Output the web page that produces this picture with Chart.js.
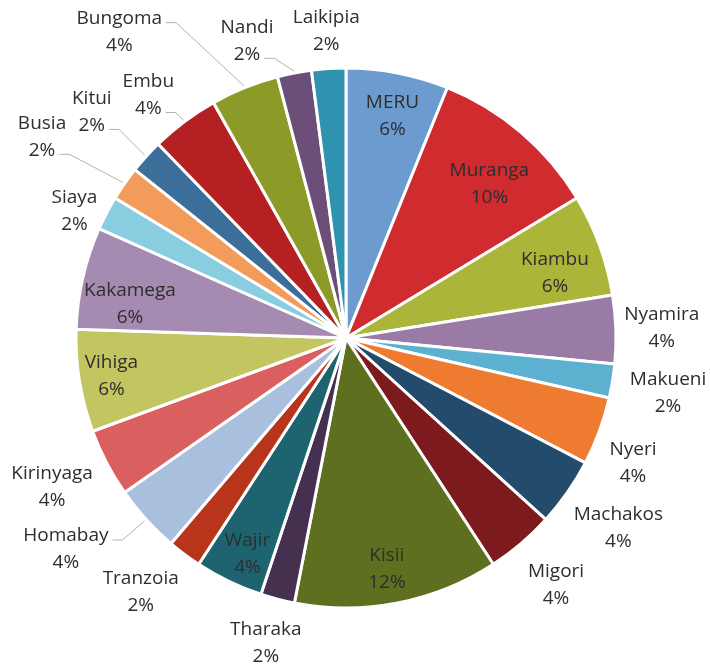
<!DOCTYPE html>
<html>
<head>
<meta charset="utf-8">
<script src="https://cdn.jsdelivr.net/npm/chart.js@4.4.1/dist/chart.umd.min.js"></script>
<style>
  body { margin: 0; background: #fff; }
  canvas { display: block; }
</style>
</head>
<body>
<canvas id="piechart" width="710" height="664"></canvas>
<script>
// counties clockwise from 12 o'clock, respondent counts (49 in all)
const counties = ["MERU", "Muranga", "Kiambu", "Nyamira", "Makueni", "Nyeri", "Machakos", "Migori",
    "Kisii", "Tharaka", "Wajir", "Tranzoia", "Homabay", "Kirinyaga", "Vihiga", "Kakamega",
    "Siaya", "Busia", "Kitui", "Embu", "Bungoma", "Nandi", "Laikipia"];
const counts = [3, 5, 3, 2, 1, 2, 2, 2, 6, 1, 2, 1, 2, 2, 3, 3, 1, 1, 1, 2, 2, 1, 1];

const sliceColors = ["#6b9bcf", "#d02b2e", "#abb53a", "#997ba6", "#5cb1d1", "#ef7b31", "#234c6c", "#7c1a1e",
    "#5e6f20", "#45304f", "#1e6470", "#b8341b", "#a9bfde", "#d9605e", "#c3c561", "#a58bb1",
    "#88cde0", "#f29b5b", "#3b6f9a", "#b52023", "#8c9b27", "#6b4f78", "#2f93b0"];

// label block centre: distance (x radius) and turn (degrees) from slice middle
const labelDist = [0.84, 0.78, 0.81, 1.17, 1.21, 1.16, 1.23, 1.20, 0.87, 1.17, 0.88, 1.21,
    1.30, 1.22, 0.88, 0.81, 1.11, 1.35, 1.26, 1.16, 1.41, 1.16, 1.14];
const labelTurn = [0.8, 2.5, 3, 0, 0.5, 3.4, 0, 0, 1, 0, -1.2, 2.2,
    5.2, 0.7, 0, -3.9, -2.5, -1.4, -0.6, -2.4, -14.5, -7.4, 0];
// which labels get a leader line back to their slice
const labelLeader = [0, 0, 0, 0, 0, 0, 0, 0, 0, 0, 0, 0,
    1, 0, 0, 0, 0, 1, 1, 1, 1, 1, 0];

const labelFont = '19px "Open Sans"';
const lineGap = 27;

const sliceLabels = {
    id: 'sliceLabels',
    afterDatasetsDraw(chart) {
        const ctx = chart.ctx;
        const meta = chart.getDatasetMeta(0);
        const total = counts.reduce((a, b) => a + b, 0);
        ctx.save();
        ctx.font = labelFont;
        ctx.textAlign = 'center';
        ctx.textBaseline = 'middle';
        meta.data.forEach((arc, i) => {
            const p = arc.getProps(['x', 'y', 'startAngle', 'endAngle', 'outerRadius'], true);
            const mid = (p.startAngle + p.endAngle) / 2;
            const ang = mid + labelTurn[i] * Math.PI / 180;
            const cx = p.x + Math.cos(ang) * p.outerRadius * labelDist[i];
            const cy = p.y + Math.sin(ang) * p.outerRadius * labelDist[i];
            const lines = [counties[i], Math.round(counts[i] / total * 100) + '%'];
            const ys = [cy - lineGap / 2, cy + lineGap / 2];

            if (labelLeader[i]) {
                const ax = p.x + Math.cos(mid) * (p.outerRadius + 2);
                const ay = p.y + Math.sin(mid) * (p.outerRadius + 2);
                const side = ax < cx ? -1 : 1;
                // attach to whichever text line ends nearest the slice
                let best = null;
                lines.forEach((t, k) => {
                    const w = ctx.measureText(t).width;
                    const ex = cx + side * (w / 2 + 4);
                    const ey = ys[k] + 4;
                    const d = Math.hypot(ax - ex, ay - ey);
                    if (!best || d < best.d) best = {x: ex, y: ey, d: d};
                });
                ctx.strokeStyle = '#b8b0a8';
                ctx.lineWidth = 1;
                ctx.beginPath();
                ctx.moveTo(best.x, best.y);
                ctx.lineTo(best.x + side * 10, best.y);
                ctx.lineTo(ax, ay);
                ctx.stroke();
            }

            ctx.fillStyle = '#2e2e2e';
            lines.forEach((t, k) => ctx.fillText(t, cx, ys[k]));
        });
        ctx.restore();
    }
};

new Chart(document.getElementById('piechart'), {
    type: 'pie',
    data: {
        labels: counties,
        datasets: [{
            data: counts,
            backgroundColor: sliceColors,
            borderColor: '#ffffff',
            borderWidth: 3,
            hoverOffset: 0,
            offset: 0
        }]
    },
    options: {
        responsive: false,
        animation: false,
        layout: {
            padding: {left: 74.5, top: 66.5, right: 92.5, bottom: 54.5}
        },
        plugins: {
            legend: {display: false},
            tooltip: {enabled: false}
        }
    },
    plugins: [sliceLabels]
});
</script>
</body>
</html>
